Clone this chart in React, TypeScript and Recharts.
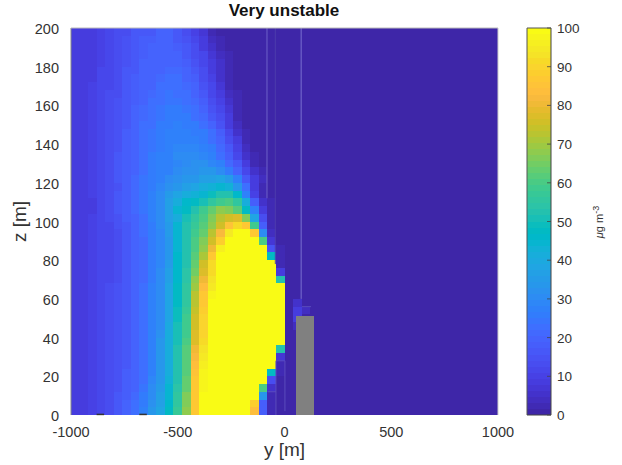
import React from "react";
import { ComposedChart, XAxis, YAxis, ReferenceArea, ReferenceLine, Label } from "recharts";

const FONT = "'Liberation Sans', Arial, sans-serif";
const yTicks = [-1000, -500, 0, 500, 1000];
const zTicks = [0, 20, 40, 60, 80, 100, 120, 140, 160, 180, 200];
const barTicks = [0, 10, 20, 30, 40, 50, 60, 70, 80, 90, 100];
const yStart = -1000;
const yStep = 40;
const zStep = 4;
const background = 1;

// concentration, rows from z=196-200 down; columns from y=-1000 eastward
const upperRows = [
  [8,8,8,10,11,14,14,17,17,17,19,19,16,13,10,7,3,1],
  [8,8,9,10,12,14,15,17,18,18,19,19,17,15,11,8,4,2,1],
  [8,8,9,10,12,14,15,17,18,19,19,19,18,16,13,9,6,3,1],
  [8,8,9,10,12,14,15,17,18,19,20,20,19,17,14,11,7,4,2],
  [8,8,9,10,12,14,15,17,19,19,20,20,20,18,15,12,8,5,2],
  [8,9,9,11,12,14,16,17,19,20,20,21,21,19,17,13,9,6,2],
  [8,9,9,11,12,14,16,18,19,20,21,22,22,20,18,14,10,6,2],
  [8,9,10,11,12,14,16,18,19,20,22,23,22,21,19,15,11,7,2],
  [8,9,10,11,13,14,16,18,20,21,22,24,23,22,20,17,12,8,4,2],
  [8,9,10,11,13,15,17,18,20,22,23,24,24,23,21,18,14,10,5,2],
  [8,9,10,11,13,15,17,19,21,22,24,25,25,24,22,20,15,11,7,2],
  [8,9,10,11,13,15,17,19,21,23,24,26,26,25,23,21,17,13,8,3],
  [8,9,10,11,13,15,17,20,22,23,25,26,27,26,25,23,19,15,9,4],
  [8,9,10,11,13,15,18,20,22,24,26,27,28,27,26,25,22,18,12,6,2],
  [8,9,10,11,13,15,18,20,22,24,26,27,28,28,28,26,23,20,14,8,3],
  [8,9,10,11,13,15,18,20,22,24,26,28,29,29,29,28,25,21,16,10,4],
  [8,9,10,11,13,16,18,20,23,25,27,28,30,30,30,29,27,23,18,12,6,2],
  [8,9,10,11,13,16,18,20,23,25,27,27,29,31,32,32,29,27,21,16,9,3],
  [8,9,10,11,13,16,18,20,23,25,27,28,31,32,32,34,33,31,26,20,12,5,2],
  [8,9,10,11,13,16,18,21,24,26,28,30,32,33,34,36,37,38,35,28,17,8,4],
  [8,9,10,11,13,15,18,21,24,26,29,32,34,36,38,41,43,44,43,34,22,8,3],
];
const plumeRows = [
  [8,9,10,11,13,16,18,21,24,27,31,35,39,42,43,45,49,52,52,46,28,10,3],
  [8,8,9,11,13,16,18,21,24,27,31,36,41,46,48,50,56,59,60,55,42,18,6,2],
  [8,8,9,11,13,16,18,21,24,27,31,36,44,48,52,58,63,68,67,62,48,27,8,2],
  [8,9,10,11,13,15,18,20,23,27,31,36,42,50,55,60,66,72,76,77,67,38,13,3],
  [9,9,10,11,12,15,17,20,22,25,30,35,44,52,57,62,68,76,85,91,87,58,18,3],
  [9,9,10,11,12,14,17,20,22,25,29,35,45,53,58,63,72,82,94,100,100,87,30,4],
  [9,9,10,11,12,14,16,19,21,25,29,34,45,53,60,66,75,88,100,100,100,100,60,7],
  [9,9,10,11,12,14,16,19,21,25,29,34,45,53,60,68,80,96,100,100,100,100,100,15,2],
  [9,9,10,11,12,14,16,19,21,25,29,34,46,53,61,71,86,100,100,100,100,100,100,47,2],
  [9,9,10,11,12,14,16,19,21,25,29,35,46,53,63,75,91,100,100,100,100,100,100,100,3],
  [9,9,10,11,12,14,16,19,21,25,30,36,46,54,65,78,92,100,100,100,100,100,100,100,8],
  [9,9,10,11,12,14,16,19,21,26,30,37,46,54,68,81,93,100,100,100,100,100,100,100,53],
];
const coreRows = [
  [9,9,10,11,13,15,17,20,22,27,31,38,47,55,70,84,95,100,100,100,100,100,100,100,100,1],
  [9,9,10,11,13,15,17,20,22,27,31,38,48,56,72,86,97,100,100,100,100,100,100,100,100,1],
  [9,9,10,11,13,15,17,20,22,27,31,38,48,56,73,87,100,100,100,100,100,100,100,100,100,1,5],
  [9,9,10,11,13,15,17,20,22,27,31,39,49,57,74,89,100,100,100,100,100,100,100,100,100,1,9,4],
  [9,9,10,11,13,15,17,20,22,27,31,39,49,58,75,90,100,100,100,100,100,100,100,100,100,1,8],
  [9,9,10,11,13,15,17,20,22,27,31,40,50,58,76,90,100,100,100,100,100,100,100,100,100,1,4],
  [9,9,10,11,13,15,17,20,22,27,32,41,50,59,77,90,100,100,100,100,100,100,100,100,100,1],
  [9,9,10,11,13,15,17,20,22,28,33,41,51,60,78,91,100,100,100,100,100,100,100,100,100,1],
];
const groundRows = [
  [9,9,10,11,13,15,17,20,22,28,33,41,52,61,81,93,100,100,100,100,100,100,100,100,53],
  [9,9,10,11,13,15,17,20,22,28,33,41,52,61,82,94,100,100,100,100,100,100,100,100,7],
  [9,9,10,12,13,15,17,20,22,28,33,42,52,62,84,96,100,100,100,100,100,100,100,100,3],
  [9,9,10,12,13,15,18,20,22,28,33,42,53,62,85,97,100,100,100,100,100,100,100,47,2],
  [9,9,10,12,13,15,18,20,23,29,34,43,53,63,86,97,100,100,100,100,100,100,100,14],
  [9,9,10,11,13,15,18,20,24,30,35,44,54,64,87,98,100,100,100,100,100,100,60,6],
  [9,9,10,11,13,16,18,21,25,31,36,45,55,66,87,99,100,100,100,100,100,100,33,2],
  [9,9,10,11,13,16,19,22,26,32,37,46,56,67,87,100,100,100,100,100,100,88,18,2],
  [9,9,10,11,13,16,19,22,27,33,38,47,57,68,86,100,100,100,100,100,100,84,18,2],
];
const concentrationRows = [...upperRows, ...plumeRows, ...coreRows, ...groundRows];

const parula = [
  [0.2422,0.1504,0.6603],[0.2504,0.165,0.7076],[0.2578,0.1818,0.7511],[0.2647,0.1978,0.7952],
  [0.2706,0.2147,0.8364],[0.2751,0.2342,0.871],[0.2783,0.2559,0.8991],[0.2803,0.2782,0.9221],
  [0.2813,0.3006,0.9414],[0.281,0.3228,0.9579],[0.2795,0.3447,0.9717],[0.276,0.3667,0.9829],
  [0.2699,0.3892,0.9906],[0.2602,0.4123,0.9952],[0.244,0.4358,0.9988],[0.2206,0.4603,0.9973],
  [0.1963,0.4847,0.9892],[0.1834,0.5074,0.9798],[0.1786,0.5289,0.9682],[0.1764,0.5499,0.952],
  [0.1687,0.5703,0.9359],[0.154,0.5902,0.9218],[0.146,0.6091,0.9079],[0.138,0.6276,0.8973],
  [0.1248,0.6459,0.8883],[0.1113,0.6635,0.8763],[0.0952,0.6798,0.8598],[0.0689,0.6948,0.8394],
  [0.0297,0.7082,0.8163],[0.0036,0.7203,0.7917],[0.0067,0.7312,0.766],[0.0433,0.7411,0.7394],
  [0.0964,0.75,0.712],[0.1408,0.7584,0.6842],[0.1717,0.767,0.6554],[0.1938,0.7758,0.6251],
  [0.2161,0.7843,0.5923],[0.247,0.7918,0.5567],[0.2906,0.7973,0.5188],[0.3406,0.8008,0.4789],
  [0.3909,0.8029,0.4354],[0.4456,0.8024,0.3909],[0.5044,0.7993,0.348],[0.5616,0.7942,0.3045],
  [0.6174,0.7876,0.2612],[0.672,0.7793,0.2227],[0.7242,0.7698,0.191],[0.7738,0.7598,0.1646],
  [0.8203,0.7498,0.1535],[0.8634,0.7406,0.1596],[0.9035,0.733,0.1774],[0.9393,0.7288,0.21],
  [0.9728,0.7298,0.2394],[0.9956,0.7434,0.2371],[0.997,0.7659,0.2199],[0.9952,0.7861,0.1996],
  [0.9892,0.8082,0.1816],[0.9786,0.8296,0.1759],[0.9676,0.853,0.153],[0.961,0.889,0.1537],
  [0.9597,0.9135,0.1423],[0.9628,0.9373,0.1265],[0.9691,0.9606,0.1064],[0.9769,0.9839,0.0805],
].map(([r, g, b]) => `rgb(${Math.round(r * 255)},${Math.round(g * 255)},${Math.round(b * 255)})`);

const colorOf = (v: number) => parula[Math.min(63, Math.floor((v / 100) * 64))];

const TEXT = "#333333";
const cellProps = { stroke: "none", fillOpacity: 1, ifOverflow: "visible" as const, shapeRendering: "crispEdges" };

const AxisTick = (anchor: "end" | "middle", dx: number, dy: number) => (p: any) => (
  <text x={p.x + dx} y={p.y + dy} textAnchor={anchor} fontSize={14.5} fontFamily={FONT} fill={TEXT}>
    {p.payload.value}
  </text>
);

const BarTick = (p: any) => (
  <g>
    <line x1={p.x - 12} x2={p.x - 8} y1={p.y} y2={p.y} stroke="#444" strokeWidth={0.8} />
    <text x={p.x - 2} y={p.y + 5} textAnchor="start" fontSize={13.5} fontFamily={FONT} fill={TEXT}>
      {p.payload.value}
    </text>
  </g>
);

const thinLines: [number, number, number, number, string][] = [
  [-82, 112, -82, 200, "#6d62c8"],
  [-43, 78, -43, 200, "#4c3cac"],
  [78, 60, 78, 200, "#7a70d0"],
  [82, 56, 124, 56, "#5a4cbc"],
  [-78, 12, -40, 12, "#5a4cbc"],
  [-40, 0, -40, 28, "#5a4cbc"],
  [-40, 28, 2, 28, "#5a4cbc"],
  [2, 2, 2, 28, "#5a4cbc"],
];

export default function App() {
  return (
    <div style={{ position: "absolute", left: 0, top: 0, width: 622, height: 465, background: "#fff" }}>
      <div style={{ position: "absolute", left: 0, top: 0 }}>
        <ComposedChart width={622} height={465} margin={{ left: 31, right: 124, top: 28, bottom: 20 }}>
          <XAxis
            type="number"
            dataKey="y"
            domain={[-1000, 1000]}
            ticks={yTicks}
            height={30}
            allowDataOverflow
            tickLine={false}
            axisLine={false}
            interval={0}
            tick={AxisTick("middle", 0, 14)}
          >
            <Label value="y [m]" position="insideBottom" offset={-11} fontSize={19} fontFamily={FONT} fill={TEXT} />
          </XAxis>
          <YAxis
            type="number"
            dataKey="z"
            domain={[0, 200]}
            ticks={zTicks}
            width={40}
            allowDataOverflow
            tickLine={false}
            axisLine={false}
            interval={0}
            tick={AxisTick("end", -4, 6)}
          >
            <Label value="z [m]" angle={-90} position="insideLeft" offset={-12} textAnchor="middle" fontSize={19} fontFamily={FONT} fill={TEXT} />
          </YAxis>
          <ReferenceArea x1={120} x2={1000} y1={0} y2={200} fill={colorOf(background)} {...cellProps} />
          {concentrationRows.flatMap((row, r) =>
            Array.from({ length: 28 }, (_, k) => {
              const top = 200 - r * zStep;
              const v = row[k] ?? background;
              return (
                <ReferenceArea
                  key={`${r}-${k}`}
                  x1={yStart + k * yStep}
                  x2={yStart + (k + 1) * yStep}
                  y1={top - zStep}
                  y2={top}
                  fill={colorOf(v)}
                  {...cellProps}
                />
              );
            })
          )}
          {thinLines.map(([x1, y1, x2, y2, c], i) => (
            <ReferenceLine key={i} segment={[{ x: x1, y: y1 }, { x: x2, y: y2 }]} stroke={c} strokeWidth={1} ifOverflow="visible" />
          ))}
          <ReferenceArea x1={55} x2={138} y1={0} y2={51} fill="#808080" {...cellProps} />
          <ReferenceLine segment={[{ x: -880, y: 0.3 }, { x: -845, y: 0.3 }]} stroke="#333" strokeWidth={1.5} ifOverflow="visible" />
          <ReferenceLine segment={[{ x: -680, y: 0.3 }, { x: -645, y: 0.3 }]} stroke="#333" strokeWidth={1.5} ifOverflow="visible" />
          <ReferenceLine segment={[{ x: -1000, y: 0 }, { x: -1000, y: 200 }]} stroke="#888" strokeWidth={1} ifOverflow="visible" />
          <ReferenceLine segment={[{ x: -1000, y: 200 }, { x: 1000, y: 200 }]} stroke="#bbb" strokeWidth={1} ifOverflow="visible" />
          <ReferenceLine segment={[{ x: 1000, y: 0 }, { x: 1000, y: 200 }]} stroke="#ccc" strokeWidth={1} ifOverflow="visible" />
          <text x={284} y={16} textAnchor="middle" fontSize={17} fontWeight="bold" fontFamily={FONT} fill="#111">
            Very unstable
          </text>
        </ComposedChart>
      </div>
      <div style={{ position: "absolute", left: 0, top: 0 }}>
        <ComposedChart width={622} height={465} margin={{ left: 527, right: 31, top: 28, bottom: 20 }}>
          <XAxis type="number" dataKey="c" domain={[0, 1]} height={30} tick={false} tickLine={false} axisLine={false} allowDataOverflow />
          <YAxis
            type="number"
            dataKey="v"
            orientation="right"
            domain={[0, 100]}
            ticks={barTicks}
            width={40}
            interval={0}
            allowDataOverflow
            tickLine={false}
            axisLine={false}
            tick={BarTick}
          />
          {parula.map((c, i) => (
            <ReferenceArea key={i} x1={0} x2={1} y1={(i * 100) / 64} y2={((i + 1) * 100) / 64} fill={c} {...cellProps} />
          ))}
          <ReferenceLine segment={[{ x: 0, y: 0 }, { x: 0, y: 100 }]} stroke="#555" strokeWidth={1} ifOverflow="visible" />
          <ReferenceLine segment={[{ x: 1, y: 0 }, { x: 1, y: 100 }]} stroke="#444" strokeWidth={1} ifOverflow="visible" />
          <ReferenceLine segment={[{ x: 0, y: 100 }, { x: 1, y: 100 }]} stroke="#555" strokeWidth={1} ifOverflow="visible" />
          <ReferenceLine segment={[{ x: 0, y: 0 }, { x: 1, y: 0 }]} stroke="#444" strokeWidth={1} ifOverflow="visible" />
          <text transform="translate(603,222) rotate(-90)" textAnchor="middle" fontSize={11} fontFamily={FONT} fill={TEXT}>
            <tspan fontStyle="italic">μ</tspan>
            <tspan>g m</tspan>
            <tspan dy={-4} fontSize={9}>-3</tspan>
          </text>
        </ComposedChart>
      </div>
    </div>
  );
}
